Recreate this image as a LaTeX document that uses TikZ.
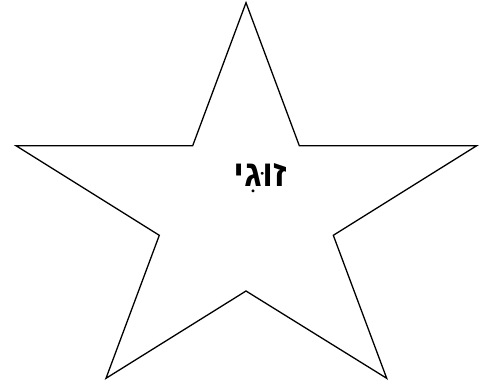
\documentclass[tikz,border=0pt]{standalone}
\usepackage{fontspec}
\newfontfamily\hebfont[Script=Hebrew]{Liberation Sans}
\TeXXeTstate=1

\begin{document}
\begin{tikzpicture}[x=1pt,y=-1pt,outline/.style={draw,line width=1.3pt,line join=miter,fill=white},label/.style={font=\hebfont\bfseries\fontsize{37}{42}\selectfont,inner sep=0pt}]
\useasboundingbox (0,0) rectangle (489,388);
\coordinate (T) at (246,2.7);
\coordinate (UR) at (299.3,145.7);
\coordinate (R) at (476.7,145.7);
\coordinate (LR) at (333.3,235.3);
\coordinate (BR) at (386.7,378.3);
\coordinate (B) at (246,291);
\coordinate (BL) at (106,378.3);
\coordinate (LL) at (159.3,235.3);
\coordinate (L) at (16,145.7);
\coordinate (UL) at (192.7,145.7);
\draw[outline] (T) -- (UR) -- (R) -- (LR) -- (BR) -- (B) -- (BL) -- (LL) -- (L) -- (UL) -- cycle;
\node[label] (word) at (260,178) {\beginR זוּגִי\endR};
\end{tikzpicture}
\end{document}
